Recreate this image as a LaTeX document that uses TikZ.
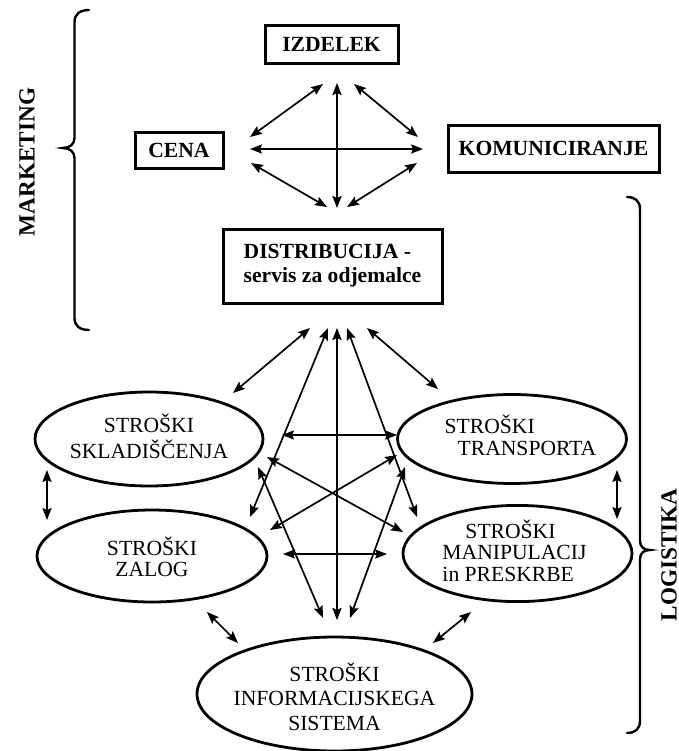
\documentclass[tikz,border=0pt]{standalone}
\usepackage{fontspec}
\setmainfont{Liberation Serif}
\usetikzlibrary{arrows.meta,shapes.geometric}
\newdimen\px \px=0.5pt
% #1 x shift, #2 baselineskip, #3 column type, #4 lines, #5 vertical shift
\newcommand\ellbody[5]{\makebox[0pt]{\kern#1\fontsize{10.8}{#2}\selectfont\raisebox{#5}[\height][\depth]{\begin{tabular}{@{}#3@{}}#4\end{tabular}}\kern-#1}}
\tikzset{
  boxnode/.style={draw, line width=1.5pt, rectangle, inner sep=0pt,
    font=\fontsize{10.8}{12}\selectfont\bfseries},
  ellnode/.style={draw, line width=1.4pt, ellipse, inner sep=0pt},
  link/.style={line width=0.85pt,
    {Stealth[length=6pt,width=4.6pt,inset=1pt]}-{Stealth[length=6pt,width=4.6pt,inset=1pt]}},
  thicklink/.style={link, line width=1.05pt},
  bracepath/.style={line width=1.2pt, line cap=round},
  sidelabel/.style={rotate=90, font=\fontsize{11.6}{13}\selectfont\bfseries, inner sep=0pt}
}
\begin{document}
\begin{tikzpicture}[x=0.5pt,y=-0.5pt]
\useasboundingbox (0,0) rectangle (679,751);

% marketing boxes
\node[boxnode, minimum width=133\px, minimum height=38\px] (izd) at (331.5,44) {IZDELEK};
\node[boxnode, minimum width=88\px, minimum height=36\px] (cena) at (179,150) {CENA};
\node[boxnode, minimum width=211\px, minimum height=47\px] (kom) at (553.5,148.5) {KOMUNICIRANJE};
\node[boxnode, minimum width=219\px, minimum height=74\px, align=left] (dist) at (332.5,266) {DISTRIBUCIJA -\\servis za odjemalce};

% logistics ellipses
\node[ellnode, minimum width=228\px, minimum height=94\px] (skl) at (149,439)
  {\ellbody{0pt}{12.5pt}{c}{STROŠKI\\SKLADIŠČENJA}{-0.5pt}};
\node[ellnode, minimum width=229\px, minimum height=89\px] (tra) at (512,439)
  {\ellbody{4.25pt}{11pt}{l}{STROŠKI\\\hspace*{6.5pt}TRANSPORTA}{0pt}};
\node[ellnode, minimum width=230\px, minimum height=92\px] (zal) at (152,556)
  {\ellbody{0pt}{10.5pt}{c}{STROŠKI\\ZALOG}{-2pt}};
\node[ellnode, minimum width=229\px, minimum height=93\px] (man) at (517.5,553.5)
  {\ellbody{-1.5pt}{10.75pt}{l}{\hspace*{11.5pt}STROŠKI\\MANIPULACIJ\\in PRESKRBE}{0pt}};
\node[ellnode, minimum width=275\px, minimum height=114\px] (inf) at (334.5,694)
  {\ellbody{0pt}{12.2pt}{c}{STROŠKI\\INFORMACIJSKEGA\\SISTEMA}{-3pt}};

% side labels
\node[sidelabel] (mlab) at (27,162) {MARKETING};
\node[sidelabel] (llab) at (669,555) {LOGISTIKA};

% braces
\draw[bracepath] (89,10) .. controls (80,10) and (74.5,14) .. (74.5,22) -- (74.5,138)
  .. controls (74.5,144) and (70,148) .. (63,148)
  .. controls (70,148) and (74.5,152) .. (74.5,158) -- (74.5,318)
  .. controls (74.5,326) and (80,330) .. (89,330);
\draw[bracepath] (627,197) .. controls (635,197) and (640,201) .. (640,209) -- (640,541)
  .. controls (640,547) and (644,550) .. (650,550)
  .. controls (644,550) and (640,553) .. (640,559) -- (640,721)
  .. controls (640,729) and (635,733) .. (627,733);

% connector ends, marketing part
\coordinate (a1s) at (323,84);  \coordinate (a1e) at (250,137);
\coordinate (a2s) at (337,83);  \coordinate (a2e) at (337,208);
\coordinate (a3s) at (354,84);  \coordinate (a3e) at (418,137);
\coordinate (a4s) at (250,149); \coordinate (a4e) at (423,149);
\coordinate (a5s) at (251,163); \coordinate (a5e) at (327,207);
\coordinate (a6s) at (417,163); \coordinate (a6e) at (347,207);

\draw[link] (a1s) -- (a1e);
\draw[thicklink] (a2s) -- (a2e);
\draw[link] (a3s) -- (a3e);
\draw[link] (a4s) -- (a4e);
\draw[link] (a5s) -- (a5e);
\draw[link] (a6s) -- (a6e);

% connector ends, logistics part
\coordinate (b1s) at (310,328);  \coordinate (b1e) at (233,393);
\coordinate (b2s) at (328,328);  \coordinate (b2e) at (250,517);
\coordinate (b3s) at (337,328);  \coordinate (b3e) at (337,620);
\coordinate (b4s) at (347,328);  \coordinate (b4e) at (417,517);
\coordinate (b5s) at (367,328);  \coordinate (b5e) at (438,389);
\coordinate (b6s) at (282,435);  \coordinate (b6e) at (397,435);
\coordinate (b7s) at (267,457);  \coordinate (b7e) at (403,532);
\coordinate (b8s) at (397,455);  \coordinate (b8e) at (270,530);
\coordinate (b9s) at (258,467);  \coordinate (b9e) at (323,618);
\coordinate (b10s) at (405,467); \coordinate (b10e) at (350,618);
\coordinate (b11s) at (283,554); \coordinate (b11e) at (387,554);
\coordinate (b12s) at (47,470);  \coordinate (b12e) at (47,520);
\coordinate (b13s) at (617,470); \coordinate (b13e) at (617,519);
\coordinate (b14s) at (207,612); \coordinate (b14e) at (238,643);
\coordinate (b15s) at (471,612); \coordinate (b15e) at (433,643);

\draw[link] (b1s) -- (b1e);
\draw[link] (b2s) -- (b2e);
\draw[thicklink] (b3s) -- (b3e);
\draw[link] (b4s) -- (b4e);
\draw[link] (b5s) -- (b5e);
\draw[link] (b6s) -- (b6e);
\draw[link] (b7s) -- (b7e);
\draw[link] (b8s) -- (b8e);
\draw[link] (b9s) -- (b9e);
\draw[link] (b10s) -- (b10e);
\draw[link] (b11s) -- (b11e);
\draw[link] (b12s) -- (b12e);
\draw[link] (b13s) -- (b13e);
\draw[link] (b14s) -- (b14e);
\draw[link] (b15s) -- (b15e);
\end{tikzpicture}
\end{document}
